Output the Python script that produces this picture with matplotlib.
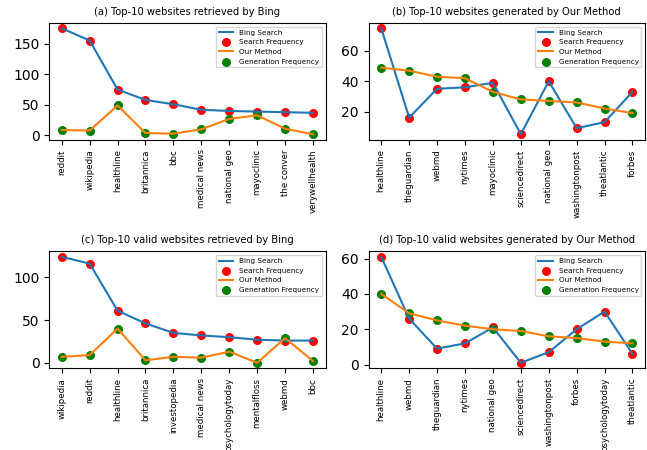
import matplotlib
matplotlib.use('Agg')
import matplotlib.pyplot as plt

# (a) top-10 retrieved by Bing
sites_a = ['reddit', 'wikipedia', 'healthline', 'britannica', 'bbc', 'medical news',
           'national geo', 'mayoclinic', 'the conver', 'verywellhealth']
search_a = [175, 155, 75, 58, 51, 42, 40, 39, 38, 37]
gen_a = [9, 8, 49, 4, 3, 10, 27, 33, 11, 2]

# (b) top-10 generated by our method
sites_b = ['healthline', 'theguardian', 'webmd', 'nytimes', 'mayoclinic', 'sciencedirect',
           'national geo', 'washingtonpost', 'theatlantic', 'forbes']
search_b = [75, 16, 35, 36, 39, 5, 40, 9, 13, 33]
gen_b = [49, 47, 43, 42, 33, 28, 27, 26, 22, 19]

# (c) top-10 valid retrieved by Bing
sites_c = ['wikipedia', 'reddit', 'healthline', 'britannica', 'investopedia', 'medical news',
           'psychologytoday', 'mentalfloss', 'webmd', 'bbc']
search_c = [124, 116, 61, 46, 35, 32, 30, 27, 26, 26]
gen_c = [7, 9, 40, 3, 7, 6, 13, 0, 29, 2]

# (d) top-10 valid generated by our method
sites_d = ['healthline', 'webmd', 'theguardian', 'nytimes', 'national geo', 'sciencedirect',
           'washingtonpost', 'forbes', 'psychologytoday', 'theatlantic']
search_d = [61, 26, 9, 12, 21, 1, 7, 20, 30, 6]
gen_d = [40, 29, 25, 22, 20, 19, 16, 15, 13, 12]

titles = ['(a) Top-10 websites retrieved by Bing',
          '(b) Top-10 websites generated by Our Method',
          '(c) Top-10 valid websites retrieved by Bing',
          '(d) Top-10 valid websites generated by Our Method']

panels = [(sites_a, search_a, gen_a), (sites_b, search_b, gen_b),
          (sites_c, search_c, gen_c), (sites_d, search_d, gen_d)]

fig, axes = plt.subplots(2, 2, figsize=(6.47, 4.5), dpi=100)
plt.subplots_adjust(left=0.076, right=0.997, top=0.949, bottom=0.182,
                    wspace=0.156, hspace=0.96)

for ax, title, (sites, search, gen) in zip(axes.flat, titles, panels):
    x = range(len(sites))
    ax.plot(x, search, color='tab:blue', label='Bing Search')
    ax.scatter(x, search, s=30, color='red', label='Search Frequency')
    ax.plot(x, gen, color='tab:orange', label='Our Method')
    ax.scatter(x, gen, s=30, color='green', label='Generation Frequency')
    ax.set_xticks(list(x))
    ax.set_xticklabels(sites, rotation=90, fontsize=6.2)
    ax.tick_params(axis='y', labelsize=10)
    ax.set_title(title, fontsize=7.2)
    ax.legend(loc='upper right', fontsize=5.2)

fig.savefig('out.png')
